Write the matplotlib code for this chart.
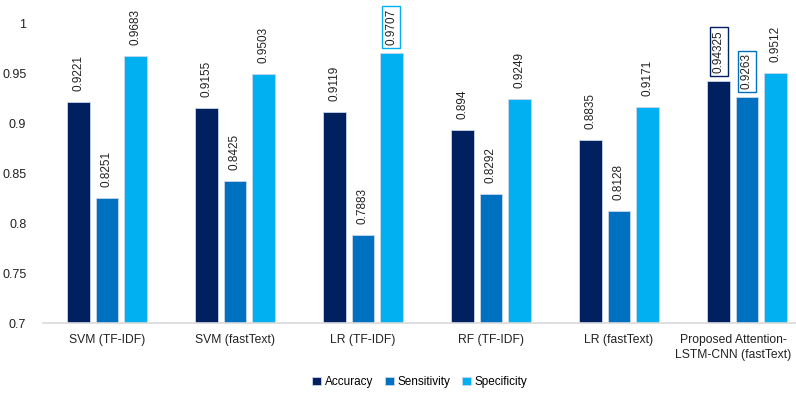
import numpy as np
import matplotlib.pyplot as plt
from matplotlib.transforms import ScaledTranslation

plt.rcParams['font.family'] = ['Liberation Sans', 'DejaVu Sans']

models = ['SVM (TF-IDF)', 'SVM (fastText)', 'LR (TF-IDF)', 'RF (TF-IDF)',
          'LR (fastText)', 'Proposed Attention-\nLSTM-CNN (fastText)']
accuracy = [0.9221, 0.9155, 0.9119, 0.894, 0.8835, 0.94325]
sensitivity = [0.8251, 0.8425, 0.7883, 0.8292, 0.8128, 0.9263]
specificity = [0.9683, 0.9503, 0.9707, 0.9249, 0.9171, 0.9512]

series = [('Accuracy', accuracy, '#002060'),
          ('Sensitivity', sensitivity, '#0070C0'),
          ('Specificity', specificity, '#00B0F0')]

# labels drawn with a box in the series colour: (series index, model index)
boxed = {(2, 2), (0, 5), (1, 5)}

fig = plt.figure(figsize=(7.96, 3.95), dpi=100)
ax = fig.add_axes([43 / 796, 1 - 323 / 395, 768 / 796, 299 / 395])

x = np.arange(len(models))
width = 0.178
step = 0.222

for i, (name, vals, color) in enumerate(series):
    pos = x + (i - 1) * step
    ax.bar(pos, vals, width, color=color, edgecolor='#c9d6ea', linewidth=0.6,
           label=name, zorder=2)
    for j, (p, v) in enumerate(zip(pos, vals)):
        txt = ('%.5f' % v).rstrip('0')
        kw = {}
        off = 0.011
        if (i, j) in boxed:
            kw['bbox'] = dict(boxstyle='square,pad=0.25', fc='white',
                              ec=color, lw=1.0)
            off = 0.008
        ax.text(p, v + off, txt, rotation=90, ha='center', va='bottom',
                fontsize=8.5, color='#222222', clip_on=False, **kw)

ax.set_xlim(-0.5, len(models) - 0.5)
ax.set_ylim(0.7, 1.0)
ax.set_yticks([0.7, 0.75, 0.8, 0.85, 0.9, 0.95, 1.0])
ax.set_yticklabels(['0.7', '0.75', '0.8', '0.85', '0.9', '0.95', '1'])
ax.set_xticks(x)
ax.set_xticklabels(models, linespacing=1.3, fontsize=8.7)
ax.tick_params(axis='both', length=0, colors='#222222')
ax.tick_params(axis='y', pad=12, labelsize=9)
ax.tick_params(axis='x', pad=8)

# keep the long last label inside the figure
last = ax.get_xticklabels()[-1]
last.set_transform(last.get_transform() +
                   ScaledTranslation(-10 / 72, 0, fig.dpi_scale_trans))

for side in ['top', 'right', 'left']:
    ax.spines[side].set_visible(False)
ax.spines['bottom'].set_color('#d9d9d9')
ax.spines['bottom'].set_linewidth(1.2)

fig.legend(loc='center', bbox_to_anchor=(0.527, 0.033), ncol=3, frameon=False,
           fontsize=8.5, handlelength=0.75, handleheight=0.75,
           handletextpad=0.3, columnspacing=1.0)

fig.savefig('out.png', dpi=100)
